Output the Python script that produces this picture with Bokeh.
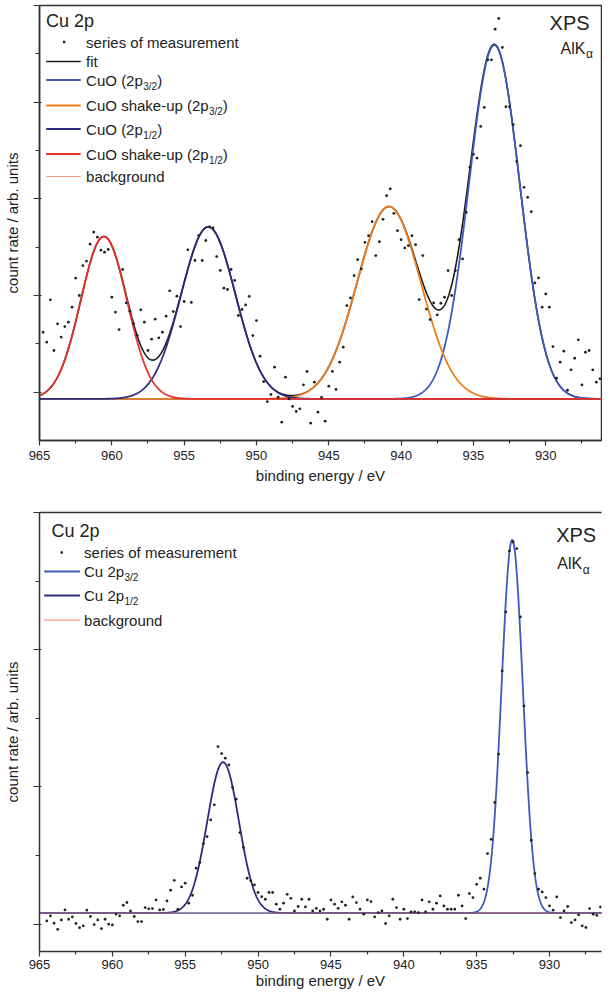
import numpy as np
from bokeh.plotting import figure
from bokeh.models import Range1d, FixedTicker, Label, Arrow, BoxAnnotation, LinearAxis, ColumnDataSource
from bokeh.layouts import column
from bokeh.embed import file_html
from bokeh.resources import INLINE

FONT = "Liberation Sans"
INK = "#222222"
AXIS = "#333333"

# ---------------- data: upper panel (CuO) ----------------
top_e_start = 964.75
top_e_step = 0.25
top_counts = [
    0.62, 0.517, 0.955, 0.431, 0.707, 0.569, 0.679, 0.724, 0.879, 1.179,
    1.0, 1.31, 1.355, 1.531, 1.655, 1.603, 1.469, 1.448, 1.476, 0.983,
    0.828, 0.648, 1.269, 0.924, 0.838, 0.71, 0.59, 0.852, 0.724, 0.431,
    0.548, 0.755, 0.562, 0.621, 0.786, 1.048, 0.834, 0.993, 0.679, 0.938,
    1.472, 0.928, 1.362, 1.62, 1.362, 1.569, 1.71, 1.70, 1.403, 1.259,
    1.076, 1.062, 1.269, 1.155, 0.793, 0.855, 0.903, 0.99, 0.586, 0.741,
    0.372, 0.11, -0.097, -0.024, 0.259, -0.052, -0.31, 0.155, -0.07, -0.148,
    -0.2, -0.172, 0.076, 0.214, -0.321, 0.103, -0.207, -0.055, -0.30, 0.062,
    0.214, 0.028, 0.31, 0.465, 0.896, 0.975, 1.206, 1.371, 1.275, 1.55,
    1.619, 1.764, 1.413, 1.557, 1.788, 2.033, 2.102, 1.85, 1.671, 1.578,
    1.492, 1.516, 1.619, 1.526, 0.958, 1.413, 0.86, 0.751, 0.923, 0.80,
    0.92, 0.982, 1.258, 1.0, 1.258, 1.578, 1.378, 1.86, 2.326, 2.46,
    2.422, 2.749, 2.946, 3.438, 3.438, 3.755, 3.866, 3.566, 2.953, 2.953,
    2.767, 2.388, 2.55, 2.119, 2.016, 1.867, 1.130, 1.182, 0.879, 1.016,
    0.879, 0.472, 0.145, 0.31, 0.424, 0.02, 0.231, 0.351, 0.541, 0.076,
    0.413, 0.431, 0.231, 0.103, 0.138,
]
top_background = -0.07
top_peak_centers = [933.55, 940.84, 953.33, 960.55]
top_peak_heights = [3.66, 1.99, 1.78, 1.68]
top_peak_sigmas = [1.76, 2.2, 1.88, 1.6]

# ---------------- data: lower panel (Cu) ----------------
bot_e_start = 964.5
bot_e_step = 0.25
bot_counts = [
    0.023, 0.060, 0.006, -0.038, 0.030, 0.103, 0.035, 0.052, 0.004, -0.026,
    -0.013, 0.101, 0.055, -0.004, 0.030, -0.033, 0.035, -0.001, -0.006, 0.072,
    0.060, 0.137, 0.157, 0.096, 0.055, 0.018, 0.018, 0.120, 0.111, 0.113,
    0.176, 0.103, 0.106, 0.169, 0.247, 0.319, 0.108, 0.271, 0.298, 0.152,
    0.210, 0.407, 0.448, 0.587, 0.638, 0.759, 0.869, 1.294, 1.243, 1.209,
    1.160, 0.995, 0.910, 0.667, 0.558, 0.334, 0.315, 0.285, 0.230, 0.200,
    0.181, 0.230, 0.230, 0.145, 0.108, 0.152, 0.217, 0.188, 0.096, 0.128,
    0.181, 0.125, 0.181, 0.096, 0.115, 0.096, 0.108, 0.035, 0.176, 0.145,
    0.115, 0.162, 0.137, 0.035, 0.198, 0.157, 0.108, 0.072, 0.176, 0.164,
    0.052, 0.084, 0.096, 0.004, 0.060, 0.181, 0.120, 0.035, 0.108, 0.040,
    0.089, 0.089, 0.084, 0.176, 0.089, 0.162, 0.108, 0.152, 0.205, 0.132,
    0.108, 0.108, 0.108, 0.210, 0.132, 0.040, 0.222, 0.193, 0.290, 0.334,
    0.254, 0.514, 0.618, 0.886, 1.238, 1.845, 2.275, 2.720, 2.785, 2.737,
    2.239, 1.590, 1.104, 0.611, 0.368, 0.254, 0.234, 0.193, 0.132, 0.101,
    0.198, 0.047, 0.096, 0.128, 0.011, 0.030, 0.067, -0.013, -0.025, 0.113,
    0.072, 0.064, 0.125,
]
bot_background = 0.08
bot_peak_centers = [932.56, 952.4]
bot_peak_heights = [2.72, 1.10]
bot_peak_sigmas = [0.73, 1.09]

x_major_ticks = [930, 935, 940, 945, 950, 955, 960, 965]
x_minor_ticks = [927.5, 932.5, 937.5, 942.5, 947.5, 952.5, 957.5, 962.5]

# styles
top_colors = ["#3b5bc0", "#f07c1c", "#2c2c7e", "#e8302a"]
bot_colors = ["#3b5bc0", "#2c2c7e"]
bg_color = "#f49a82"

ARIAL = {"C": 722, "u": 556, "O": 778, " ": 278, "(": 333, ")": 333, "2": 556,
         "p": 556, "s": 500, "h": 556, "a": 556, "k": 500, "e": 556, "-": 333,
         "A": 667, "l": 222, "K": 667}


def tw(s, size):
    return sum(ARIAL.get(c, 556) for c in s) * size / 1000.0


class Frame:
    def __init__(self, left, top, width, height, x0, x1, y0, y1):
        self.left, self.top, self.width, self.height = left, top, width, height
        self.x0, self.x1, self.y0, self.y1 = x0, x1, y0, y1

    def x(self, px):
        return self.x0 + (px - self.left) / self.width * (self.x1 - self.x0)

    def y(self, py):
        return self.y1 - (py - self.top) / self.height * (self.y1 - self.y0)


def gauss(grid, c, a, s):
    return a * np.exp(-0.5 * ((grid - c) / s) ** 2)


def style_axes(p, yticks, yminor):
    xa = p.xaxis[0]
    xa.ticker = FixedTicker(ticks=x_major_ticks, minor_ticks=x_minor_ticks)
    xa.axis_label = "binding energy / eV"
    xa.axis_label_text_font = FONT
    xa.axis_label_text_font_size = "15px"
    xa.axis_label_text_font_style = "normal"
    xa.axis_label_text_color = INK
    xa.major_label_text_font = FONT
    xa.major_label_text_font_size = "13px"
    xa.major_label_text_color = INK
    xa.major_tick_in = 0
    xa.major_tick_out = 5
    xa.minor_tick_in = 0
    xa.minor_tick_out = 3
    ya = p.yaxis[0]
    ya.ticker = FixedTicker(ticks=yticks, minor_ticks=yminor)
    # the reference shows no numbers on the count-rate axis: labels are not drawn
    ya.major_label_text_color = None
    ya.major_label_text_font_size = "1px"
    ya.major_label_standoff = 0
    ya.axis_label = "count rate / arb. units"
    ya.axis_label_text_font = FONT
    ya.axis_label_text_font_size = "15px"
    ya.axis_label_text_font_style = "normal"
    ya.axis_label_text_color = INK
    ya.axis_label_standoff = 13
    ya.major_tick_in = 2
    ya.major_tick_out = 6
    ya.minor_tick_in = 0
    ya.minor_tick_out = 4
    for ax in (xa, ya):
        ax.axis_line_color = AXIS
        ax.axis_line_width = 1.5
        ax.major_tick_line_color = AXIS
        ax.major_tick_line_width = 1.2
        ax.minor_tick_line_color = AXIS
        ax.minor_tick_line_width = 1.2
    p.grid.visible = False


def text(p, fr, px, py, s, size, align="left"):
    p.add_layout(Label(x=fr.x(px), y=fr.y(py), text=s, text_font=FONT,
                       text_font_size=f"{size}px", text_color=INK,
                       text_baseline="middle", text_align=align))


def sub_text(p, fr, px, py, main, sub, tail, size=15, sub_size=10):
    text(p, fr, px, py, main, size)
    x2 = px + tw(main, size) + 0.5
    text(p, fr, x2, py + 6, sub, sub_size)
    if tail:
        x3 = x2 + tw(sub.replace("/", "("), sub_size) - 0.5
        text(p, fr, x3, py, tail, size)


def sample(p, fr, x0, x1, py, color, width):
    p.add_layout(Arrow(end=None, x_start=fr.x(x0), y_start=fr.y(py),
                       x_end=fr.x(x1), y_end=fr.y(py),
                       line_color=color, line_width=width))


def dot(p, fr, px, py):
    p.add_layout(BoxAnnotation(left=fr.x(px - 1.2), right=fr.x(px + 1.2),
                               top=fr.y(py - 1.2), bottom=fr.y(py + 1.2),
                               fill_color=INK, fill_alpha=1.0, line_color=None))


# ================= upper panel =================
f1 = Frame(46, 13, 563, 435, 965, 926.145, -0.5, 4.0)
p1 = figure(width=602, height=492, x_range=Range1d(f1.x0, f1.x1), y_range=Range1d(f1.y0, f1.y1),
            output_backend="svg", toolbar_location=None,
            min_border_left=38, min_border_right=1, min_border_top=5, min_border_bottom=52)
style_axes(p1, [0, 1, 2, 3, 4], [0.5, 1.5, 2.5, 3.5])
p1.xaxis[0].major_label_standoff = 5
p1.xaxis[0].axis_label_standoff = 4
p1.outline_line_color = AXIS
p1.outline_line_width = 1.5
p1.outline_line_alpha = 1.0

grid1 = np.linspace(965.5, 925.5, 1400)
comps1 = [gauss(grid1, c, a, s) for c, a, s in zip(top_peak_centers, top_peak_heights, top_peak_sigmas)]
fit1 = top_background + sum(comps1)
p1.line(grid1, np.full_like(grid1, top_background), line_color=bg_color, line_width=1.2)
p1.line(grid1, fit1, line_color="#1a1a1a", line_width=1.6)
for comp, col in zip(comps1, top_colors):
    p1.line(grid1, top_background + comp, line_color=col, line_width=1.8)
top_energy = top_e_start - top_e_step * np.arange(len(top_counts))
p1.scatter(x="e", y="c", source=ColumnDataSource(dict(e=top_energy, c=top_counts)),
           size=2.8, fill_color=INK, line_color=None)

text(p1, f1, 52.5, 28.5, "Cu 2p", 18)
dot(p1, f1, 70.7, 49.5)
text(p1, f1, 92.7, 49.5, "series of measurement", 15)
rows1 = [(69, "#1a1a1a", 1.6, "fit", None),
         (87.5, top_colors[0], 1.8, "CuO (2p", "3/2"),
         (113, top_colors[1], 1.8, "CuO shake-up (2p", "3/2"),
         (136.5, top_colors[2], 1.8, "CuO (2p", "1/2"),
         (161.5, top_colors[3], 1.8, "CuO shake-up (2p", "1/2"),
         (184, bg_color, 1.2, "background", None)]
for py, col, lw, main, sub in rows1:
    sample(p1, f1, 52.7, 87.3, py, col, lw)
    if sub:
        sub_text(p1, f1, 92.7, py, main, sub, ")")
    else:
        text(p1, f1, 92.7, py, main, 15)
text(p1, f1, 557, 30.7, "XPS", 20)
sub_text(p1, f1, 568, 55.5, "AlK", "\u03b1", None, size=16, sub_size=12)

# ================= lower panel =================
f2 = Frame(46, 520, 564, 439, 965, 926.43, -0.2, 3.0)
p2 = figure(width=602, height=499, x_range=Range1d(f2.x0, f2.x1), y_range=Range1d(f2.y0, f2.y1),
            output_backend="svg", toolbar_location=None,
            min_border_left=38, min_border_right=0, min_border_top=20, min_border_bottom=40)
style_axes(p2, [0, 1, 2, 3], [0.5, 1.5, 2.5])
p2.xaxis[0].major_label_standoff = 3
p2.xaxis[0].axis_label_standoff = 0
p2.outline_line_color = None
top_axis = LinearAxis(ticker=FixedTicker(ticks=[]), major_label_text_color=None,
                      major_label_text_font_size="1px",
                      major_label_standoff=0, major_tick_in=0, major_tick_out=0,
                      minor_tick_in=0, minor_tick_out=0,
                      axis_line_color=AXIS, axis_line_width=1.5)
p2.add_layout(top_axis, "above")

grid2 = np.linspace(965.5, 925.5, 1600)
comps2 = [gauss(grid2, c, a, s) for c, a, s in zip(bot_peak_centers, bot_peak_heights, bot_peak_sigmas)]
for comp, col in zip(comps2, bot_colors):
    p2.line(grid2, bot_background + comp, line_color=col, line_width=1.8)
p2.line(grid2, np.full_like(grid2, bot_background), line_color=bg_color, line_width=1.2, line_alpha=0.6)
bot_energy = bot_e_start - bot_e_step * np.arange(len(bot_counts))
p2.scatter(x="e", y="c", source=ColumnDataSource(dict(e=bot_energy, c=bot_counts)),
           size=2.8, fill_color=INK, line_color=None)

text(p2, f2, 58, 538.5, "Cu 2p", 18)
dot(p2, f2, 68.3, 560)
text(p2, f2, 90.7, 560, "series of measurement", 15)
rows2 = [(579, bot_colors[0], 1.8, "Cu 2p", "3/2"),
         (603, bot_colors[1], 1.8, "Cu 2p", "1/2"),
         (627.7, bg_color, 1.2, "background", None)]
for py, col, lw, main, sub in rows2:
    sample(p2, f2, 50.7, 86.7, py, col, lw)
    if sub:
        sub_text(p2, f2, 90.7, py, main, sub, None)
    else:
        text(p2, f2, 90.7, py, main, 15)
text(p2, f2, 564.5, 542.5, "XPS", 20)
sub_text(p2, f2, 565.7, 571, "AlK", "\u03b1", None, size=16, sub_size=12)

layout = column(p1, p2, spacing=0)
open("out.html", "w").write(file_html(layout, INLINE))
